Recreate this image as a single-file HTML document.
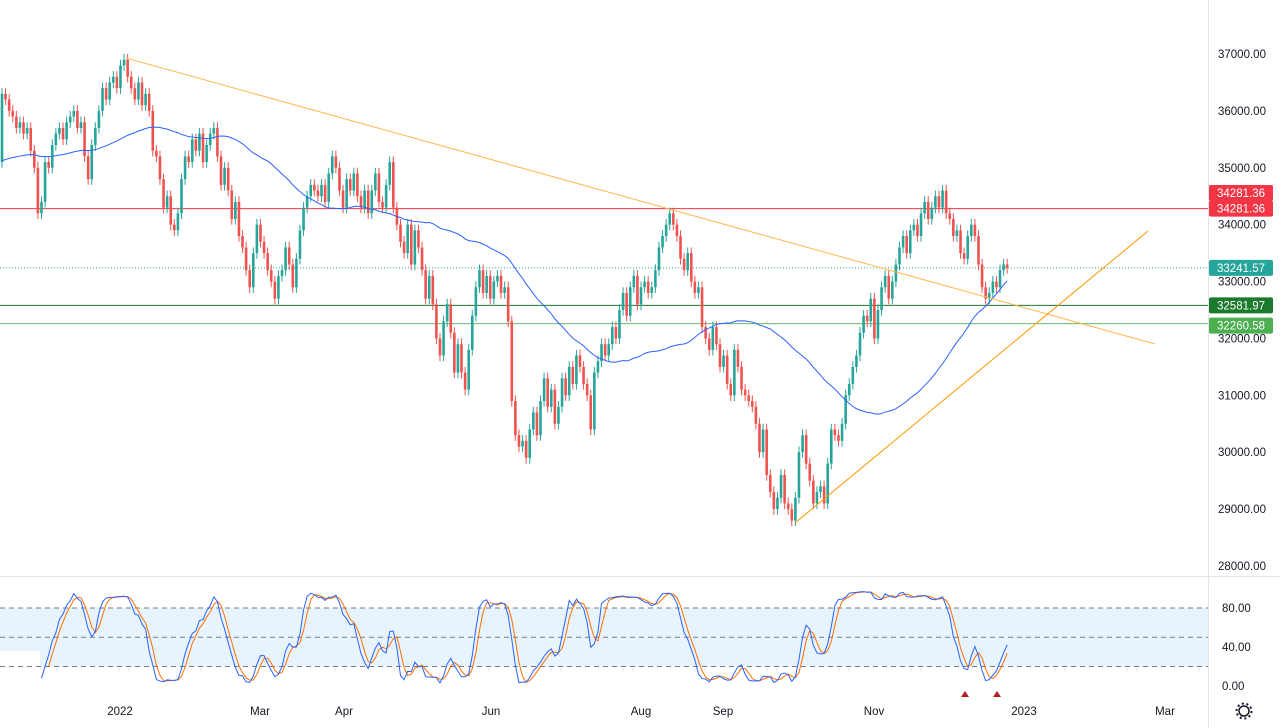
<!DOCTYPE html>
<html><head><meta charset="utf-8"><style>
html,body{margin:0;padding:0;background:#fff;width:1280px;height:728px;overflow:hidden;font-family:"Liberation Sans",sans-serif}
svg text{font-family:"Liberation Sans",sans-serif;font-size:11.5px;fill:#131722}
</style></head><body>
<svg id="c" width="1280" height="728"></svg>
<script>
const closes=[36300,36200,36000,35900,35700,35800,35600,35700,35300,35000,
34200,34400,35100,35000,35400,35600,35700,35500,35800,35900,
36000,35700,35800,35200,34800,35400,35700,36000,36400,36200,
36500,36600,36400,36800,36900,36600,36400,36200,36500,36100,
36300,36000,35300,35200,34800,34300,34500,34000,33900,34200,
34800,35200,35100,35500,35300,35600,35100,35400,35600,35700,
35200,34700,35000,34600,34100,34400,33800,33600,33200,32900,
33500,34000,33700,33500,33200,33000,32700,33100,33200,33600,
33300,32900,33400,33900,34300,34500,34700,34600,34500,34700,
34400,34900,35200,35000,34600,34300,34800,34600,34900,34500,
34300,34600,34200,34600,34900,34400,34300,34700,35100,34300,
34000,33700,33500,34000,33300,33900,33600,33200,32700,33100,
32600,32000,31700,32300,32600,32100,31400,31900,31400,31100,
31800,32400,32900,33200,32800,33100,32700,33000,33100,32800,
32900,32300,30900,30300,30100,30200,29900,30400,30700,30300,
30900,31300,30800,31100,30500,30800,31300,31000,31500,31200,
31700,31500,31200,31000,30400,31400,31600,31900,31700,31900,
32200,32000,32500,32800,32400,32900,33100,32600,32900,33000,
32800,32900,33200,33600,33800,34000,34200,34000,33800,33400,
33200,33500,33000,32800,32900,32200,32000,31800,32200,31900,
31500,31700,31200,31000,31800,31500,31100,31000,30900,30800,
30500,30000,30400,29600,29300,29000,29200,29600,29100,29000,
28800,29200,30000,30300,29800,29500,29100,29300,29400,29100,
29800,30400,30300,30200,30500,31000,31200,31500,31700,32100,
32400,32300,32700,32000,32500,32900,33100,32700,33000,33300,
33600,33800,33500,33900,34000,33800,34200,34400,34100,34300,
34500,34300,34600,34200,34100,33800,33900,33500,33400,33800,
34000,33800,33300,32900,32700,32800,33000,32900,33200,33300,33240];
const priceTicks=[37000,36000,35000,34000,33000,32000,31000,30000,29000,28000];
const stochTicks=[80,40,0];
const dateLabels=["2022","Mar","Apr","Jun","Aug","Sep","Nov","2023","Mar"];
const dateX=[120,260,344,491,641,723,874,1024,1165];
const levels=[34281.36,33241.57,32581.97,32260.58];
const startPrice=35100;

const NS="http://www.w3.org/2000/svg",svg=document.getElementById('c');
function el(t,a,p){const e=document.createElementNS(NS,t);for(const k in a)e.setAttribute(k,a[k]);(p||svg).appendChild(e);return e;}
const y=p=>54+(37000-p)*0.05689;
const ys=v=>686-v*0.975;
const x=i=>2+i*3.59;

let g=el('g',{});


el('rect',{x:0,y:ys(80),width:40,height:43,fill:'#e3f2fd',opacity:0.85},g);
el('rect',{x:40,y:ys(80),width:1168,height:ys(20)-ys(80),fill:'#e3f2fd',opacity:0.85},g);
[80,50,20].forEach(v=>el('line',{x1:0,x2:1208,y1:ys(v),y2:ys(v),stroke:'#787b86','stroke-dasharray':'5,4','stroke-width':1},g));
el('line',{x1:0,x2:1280,y1:576.5,y2:576.5,stroke:'#e0e3eb'});
el('line',{x1:1208.5,x2:1208.5,y1:0,y2:728,stroke:'#e0e3eb'});

priceTicks.forEach(p=>{const t=el('text',{x:1218,y:y(p)+4});t.textContent=p.toFixed(2);
});
stochTicks.forEach(v=>{const t=el('text',{x:1222,y:ys(v)+4});t.textContent=v.toFixed(2);
});
dateLabels.forEach((d,i)=>{const t=el('text',{x:dateX[i],y:715,'text-anchor':'middle'});t.textContent=d;
});

el('line',{x1:0,x2:1208,y1:y(levels[0]),y2:y(levels[0]),stroke:'#f23645','stroke-width':1});
el('line',{x1:0,x2:1208,y1:y(levels[1]),y2:y(levels[1]),stroke:'#26a69a','stroke-dasharray':'1,2','stroke-width':1});
el('line',{x1:0,x2:1208,y1:y(levels[2]),y2:y(levels[2]),stroke:'#1b7a2b','stroke-width':1});
el('line',{x1:0,x2:1208,y1:y(levels[3]),y2:y(levels[3]),stroke:'#66bb6a','stroke-width':1});

const cg=el('g',{});


let prev=startPrice;
closes.forEach((c,i)=>{const o=prev;prev=c;const up=c>=o;const col=up?'#26a69a':'#ef5350';
const hi=Math.max(o,c)+100,lo=Math.min(o,c)-100,cx=x(i);
el('line',{x1:cx,x2:cx,y1:y(hi),y2:y(lo),stroke:col,'stroke-width':1},cg);
const top=y(Math.max(o,c)),h=Math.max(1,y(Math.min(o,c))-top);
const r=el('rect',{x:cx-1.3,y:top,width:2.6,height:h,fill:col},cg);


});

let pts=[];
for(let i=0;i<closes.length;i++){const s=Math.max(0,i-49);let sum=startPrice*Math.max(0,49-i),n=Math.max(0,49-i);
for(let j=s;j<=i;j++){sum+=closes[j];n++;}pts.push(x(i)+','+y(sum/n));}
const ma=el('polyline',{points:pts.join(' '),fill:'none',stroke:'#2962ff','stroke-width':1});



const t1=el('line',{x1:126,y1:58,x2:1155,y2:344,stroke:'#ffb74d','stroke-width':1});

const t2=el('line',{x1:795,y1:523,x2:1148,y2:231,stroke:'#ff9800','stroke-width':1});


const hs=[],ls=[];let pv=startPrice;
closes.forEach(c=>{hs.push(Math.max(pv,c)+100);ls.push(Math.min(pv,c)-100);pv=c;});
const raw=[];
for(let i=9;i<closes.length;i++){let h=-1e9,l=1e9;for(let j=Math.max(0,i-13);j<=i;j++){h=Math.max(h,hs[j]);l=Math.min(l,ls[j]);}
raw.push({i,v:100*(closes[i]-l)/(h-l)});}
const sm=(a)=>{const r=[];for(let k=2;k<a.length;k++)r.push({i:a[k].i,v:(a[k].v+a[k-1].v+a[k-2].v)/3});return r;};
const K=sm(raw),D=sm(K);
const dp=el('polyline',{points:D.map(p=>x(p.i)+','+ys(p.v)).join(' '),fill:'none',stroke:'#ff6d00','stroke-width':1});

const kp=el('polyline',{points:K.map(p=>x(p.i)+','+ys(p.v)).join(' '),fill:'none',stroke:'#2962ff','stroke-width':1});

[965,997].forEach(tx=>{const tr=el('polygon',{points:`${tx-4},697 ${tx+4},697 ${tx},691`,fill:'#b71c1c'});
});

function lab(v,yy,col,name){const gg=el('g',{});
el('rect',{x:1209,y:yy-8,width:64,height:16,rx:2,fill:col},gg);
const t=el('text',{x:1241,y:yy+4,'text-anchor':'middle',fill:'#fff',style:'fill:#fff'},gg);t.textContent=v.toFixed(2);}
lab(levels[0],193,'#f23645','level-label-high');
lab(levels[0],y(levels[0]),'#f23645','level-label-resistance');
lab(levels[1],y(levels[1]),'#26a69a','last-price-label');
lab(levels[2],y(levels[2]),'#1b7a2b','support-label-1');
lab(levels[3],y(levels[3])+2,'#4caf50','support-label-2');

const gear=el('g',{});
el('circle',{cx:1244,cy:711,r:5,fill:'none',stroke:'#131722','stroke-width':1.5},gear);
el('circle',{cx:1244,cy:711,r:7.5,fill:'none',stroke:'#131722','stroke-width':2,'stroke-dasharray':'2,2.7'},gear);
</script>
</body></html>
